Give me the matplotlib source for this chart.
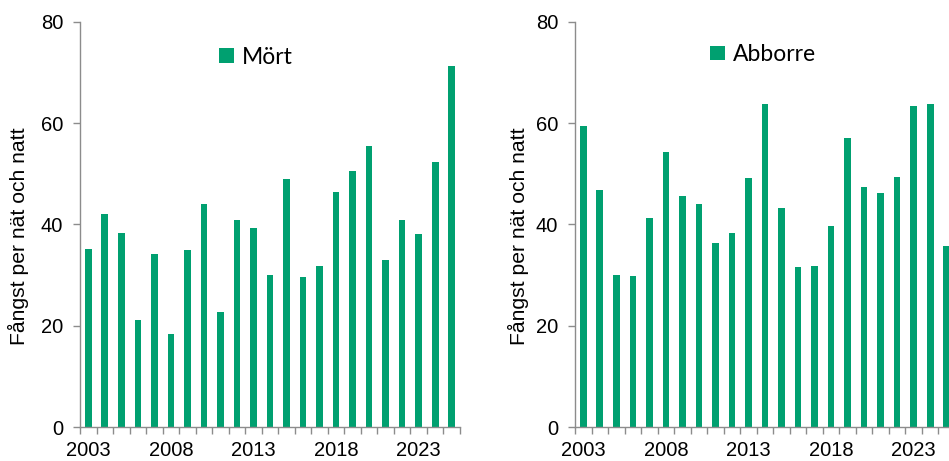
import matplotlib
matplotlib.use("Agg")
import matplotlib.pyplot as plt
import numpy as np

plt.rcParams["font.family"] = ["Liberation Sans", "DejaVu Sans"]

years = list(range(2003, 2026))
mort = [35.1, 42.1, 38.4, 21.1, 34.2, 18.4, 35.0, 44.0, 22.8, 40.8, 39.4, 30.1,
        49.0, 29.7, 31.9, 46.5, 50.6, 55.5, 32.9, 40.8, 38.1, 52.4, 71.4]
abborre = [59.4, 46.9, 30.1, 29.9, 41.3, 54.4, 45.7, 44.0, 36.4, 38.4, 49.2, 63.8,
           43.2, 31.7, 31.9, 39.8, 57.0, 47.5, 46.2, 49.4, 63.4, 63.9, 35.8]
series_names = ["Mört", "Abborre"]
ylabel = "Fångst per nät och natt"
yticks = [0, 20, 40, 60, 80]

GREEN = "#00A070"
GREY = "#8C8C8C"
W, H = 949, 461
fig = plt.figure(figsize=(W / 100, H / 100), dpi=100)

leg_font = "Lato"

def make_panel(left_px, values, name, leg_x, leg_y, ylab_x):
    ax = fig.add_axes([left_px / W, (H - 427) / H, 380 / W, 405 / H])
    x = np.arange(len(years))
    ax.bar(x, values, width=0.4, color=GREEN, label=name, zorder=2)
    ax.set_xlim(-0.5, len(years) - 0.5)
    ax.set_ylim(0, 80)
    for s in ["top", "right"]:
        ax.spines[s].set_visible(False)
    for s in ["left", "bottom"]:
        ax.spines[s].set_color(GREY)
        ax.spines[s].set_linewidth(1.0)
    ax.set_yticks(yticks)
    ax.set_yticklabels([str(v) for v in yticks], fontsize=14.5)
    ax.tick_params(axis="y", length=5, width=1, color=GREY, pad=7, labelcolor="black")
    labeled = [i for i, y in enumerate(years) if (y - 2003) % 5 == 0]
    ax.set_xticks(labeled)
    ax.set_xticklabels([str(years[i]) for i in labeled], fontsize=14.5)
    ax.set_xticks(np.arange(len(years) + 1) - 0.5, minor=True)
    ax.tick_params(axis="x", which="major", length=0, pad=10)
    ax.tick_params(axis="x", which="minor", length=5, width=1, color=GREY)
    ax.set_ylabel(ylabel, fontsize=15.2)
    ax.yaxis.set_label_coords(ylab_x, 0.47)
    ax.legend(loc="upper left", bbox_to_anchor=(leg_x, leg_y), frameon=False,
              prop={"family": leg_font, "size": 16.5},
              handlelength=0.64, handleheight=0.6, handletextpad=0.36,
              borderpad=0, borderaxespad=0)
    return ax

make_panel(80, mort, series_names[0], 0.3666, 0.9395, -0.134)
make_panel(575, abborre, series_names[1], 0.355, 0.946, -0.121)

fig.savefig("out.png", dpi=100)
